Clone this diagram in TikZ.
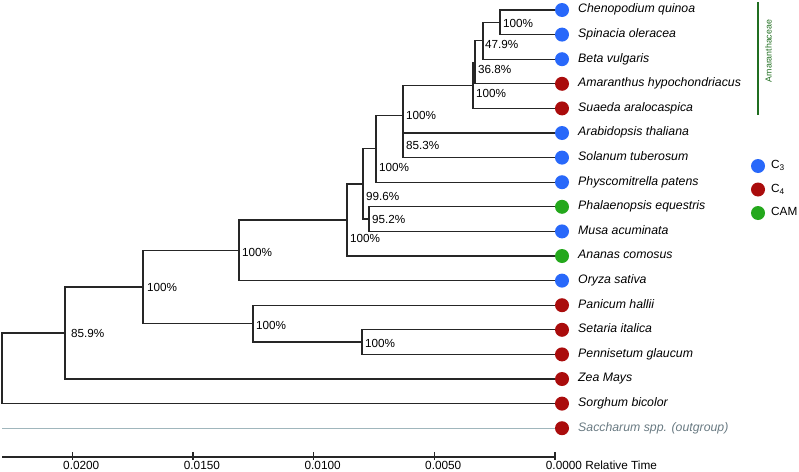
\documentclass[tikz,border=0pt]{standalone}
\usepackage{fontspec}
\setmainfont{Liberation Sans}
\usepackage{tikz}
\usetikzlibrary{positioning}
\definecolor{cthree}{RGB}{40,104,250}
\definecolor{cfour}{RGB}{170,12,12}
\definecolor{ccam}{RGB}{36,168,28}
\definecolor{amgreen}{RGB}{32,110,32}
\definecolor{outline}{RGB}{160,182,188}
\definecolor{outtext}{RGB}{105,122,130}

\begin{document}
\begin{tikzpicture}[x=1pt,y=-1pt,
  branch/.style={line width=1.3pt, draw=black!85},
  leafdot/.style={circle, inner sep=0pt, minimum size=14pt},
  taxon/.style={anchor=west, inner sep=0pt, font=\itshape\fontsize{12.3}{14}\selectfont},
  support/.style={anchor=west, inner sep=0pt, font=\fontsize{11.7}{14}\selectfont},
  axlabel/.style={anchor=west, inner sep=0pt, font=\fontsize{11.8}{14}\selectfont}]
\useasboundingbox (0,0) rectangle (799,471);

% internal nodes of the tree
\coordinate (n1) at (500,22.3);
\coordinate (n2) at (483,40.75);
\coordinate (n3) at (475,62.3);
\coordinate (n4) at (473,85.3);
\coordinate (n5) at (403,145.3);
\coordinate (n6) at (403,115.3);
\coordinate (n7) at (376,148.75);
\coordinate (n8) at (369,219.1);
\coordinate (n9) at (363,183.9);
\coordinate (n10) at (347,220);
\coordinate (n11) at (239,250.3);
\coordinate (n12) at (362,342.1);
\coordinate (n13) at (253,323.7);
\coordinate (n14) at (143,287);
\coordinate (n15) at (65,333);
\coordinate (root) at (2,368.3);
\coordinate (outbase) at (2,428.2);

% leaf positions
\coordinate (chq) at (562,10);
\coordinate (spo) at (562,34.6);
\coordinate (bvu) at (562,59.2);
\coordinate (ahy) at (562,83.8);
\coordinate (sar) at (562,108.4);
\coordinate (ath) at (562,133);
\coordinate (stu) at (562,157.6);
\coordinate (ppa) at (562,182.2);
\coordinate (peq) at (562,206.8);
\coordinate (mac) at (562,231.4);
\coordinate (aco) at (562,256);
\coordinate (osa) at (562,280.6);
\coordinate (pha) at (562,305.2);
\coordinate (sit) at (562,329.8);
\coordinate (pgl) at (562,354.4);
\coordinate (zma) at (562,379);
\coordinate (sbi) at (562,403.6);
\coordinate (ssp) at (562,428.2);

% branches
\draw[branch] (n1) |- (chq);
\draw[branch] (n1) |- (spo);
\draw[branch] (n2) |- (n1);
\draw[branch] (n2) |- (bvu);
\draw[branch] (n3) |- (n2);
\draw[branch] (n3) |- (ahy);
\draw[branch] (n4) |- (n3);
\draw[branch] (n4) |- (sar);
\draw[branch] (n5) |- (ath);
\draw[branch] (n5) |- (stu);
\draw[branch] (n6) |- (n4);
\draw[branch] (n6) |- (n5);
\draw[branch] (n7) |- (n6);
\draw[branch] (n7) |- (ppa);
\draw[branch] (n8) |- (peq);
\draw[branch] (n8) |- (mac);
\draw[branch] (n9) |- (n7);
\draw[branch] (n9) |- (n8);
\draw[branch] (n10) |- (n9);
\draw[branch] (n10) |- (aco);
\draw[branch] (n11) |- (n10);
\draw[branch] (n11) |- (osa);
\draw[branch] (n12) |- (sit);
\draw[branch] (n12) |- (pgl);
\draw[branch] (n13) |- (pha);
\draw[branch] (n13) |- (n12);
\draw[branch] (n14) |- (n11);
\draw[branch] (n14) |- (n13);
\draw[branch] (n15) |- (n14);
\draw[branch] (n15) |- (zma);
\draw[branch] (root) |- (n15);
\draw[branch] (root) |- (sbi);
\draw[line width=1.3pt, draw=outline] (outbase) -- (ssp);

% photosynthesis type dots
\node[leafdot, fill=cthree] (dchq) at (chq) {};
\node[leafdot, fill=cthree] (dspo) at (spo) {};
\node[leafdot, fill=cthree] (dbvu) at (bvu) {};
\node[leafdot, fill=cfour] (dahy) at (ahy) {};
\node[leafdot, fill=cfour] (dsar) at (sar) {};
\node[leafdot, fill=cthree] (dath) at (ath) {};
\node[leafdot, fill=cthree] (dstu) at (stu) {};
\node[leafdot, fill=cthree] (dppa) at (ppa) {};
\node[leafdot, fill=ccam] (dpeq) at (peq) {};
\node[leafdot, fill=cthree] (dmac) at (mac) {};
\node[leafdot, fill=ccam] (daco) at (aco) {};
\node[leafdot, fill=cthree] (dosa) at (osa) {};
\node[leafdot, fill=cfour] (dpha) at (pha) {};
\node[leafdot, fill=cfour] (dsit) at (sit) {};
\node[leafdot, fill=cfour] (dpgl) at (pgl) {};
\node[leafdot, fill=cfour] (dzma) at (zma) {};
\node[leafdot, fill=cfour] (dsbi) at (sbi) {};
\node[leafdot, fill=cfour] (dssp) at (ssp) {};

% support values
\node[support] (s1) at (503,23) {100\%};
\node[support] (s2) at (485,44) {47.9\%};
\node[support] (s3) at (478,69) {36.8\%};
\node[support] (s4) at (476,93) {100\%};
\node[support] (s5) at (406,145) {85.3\%};
\node[support] (s6) at (406,115) {100\%};
\node[support] (s7) at (379,167) {100\%};
\node[support] (s8) at (372,219) {95.2\%};
\node[support] (s9) at (366,196) {99.6\%};
\node[support] (s10) at (350,238) {100\%};
\node[support] (s11) at (242,252) {100\%};
\node[support] (s12) at (365,343) {100\%};
\node[support] (s13) at (256,325) {100\%};
\node[support] (s14) at (147,287) {100\%};
\node[support] (s15) at (71,333) {85.9\%};

% taxon names
\node[taxon] (tchq) at (578,10) {Chenopodium quinoa\strut};
\node[taxon] (tspo) at (578,34.6) {Spinacia oleracea\strut};
\node[taxon] (tbvu) at (578,59.2) {Beta vulgaris\strut};
\node[taxon] (tahy) at (578,83.8) {Amaranthus hypochondriacus\strut};
\node[taxon] (tsar) at (578,108.4) {Suaeda aralocaspica\strut};
\node[taxon] (tath) at (578,133) {Arabidopsis thaliana\strut};
\node[taxon] (tstu) at (578,157.6) {Solanum tuberosum\strut};
\node[taxon] (tppa) at (578,182.2) {Physcomitrella patens\strut};
\node[taxon] (tpeq) at (578,206.8) {Phalaenopsis equestris\strut};
\node[taxon] (tmac) at (578,231.4) {Musa acuminata\strut};
\node[taxon] (taco) at (578,256) {Ananas comosus\strut};
\node[taxon] (tosa) at (578,280.6) {Oryza sativa\strut};
\node[taxon] (tpha) at (578,305.2) {Panicum hallii\strut};
\node[taxon] (tsit) at (578,329.8) {Setaria italica\strut};
\node[taxon] (tpgl) at (578,354.4) {Pennisetum glaucum\strut};
\node[taxon] (tzma) at (578,379) {Zea Mays\strut};
\node[taxon] (tsbi) at (578,403.6) {Sorghum bicolor\strut};
\node[taxon, text=outtext] (tssp) at (578,428.2) {Saccharum spp. (outgroup)\strut};

% Amaranthaceae bracket
\coordinate (brtop) at (758,2);
\coordinate (brbot) at (758,115);
\draw[amgreen, line width=2pt] (brtop) -- (brbot);
\node[rotate=90, inner sep=0pt, text=amgreen, font=\fontsize{8.8}{10}\selectfont] (amlab) at (768.5,51) {Amaranthaceae};

% legend
\node[leafdot, fill=cthree] (kc3) at (758,166) {};
\node[leafdot, fill=cfour] (kc4) at (758,189.5) {};
\node[leafdot, fill=ccam] (kcam) at (758,213) {};
\node[axlabel] (lc3) at (771,166) {C\textsubscript{3}\strut};
\node[axlabel] (lc4) at (771,189.5) {C\textsubscript{4}\strut};
\node[axlabel] (lcam) at (771,213) {CAM\strut};

% time axis
\coordinate (axl) at (2,457);
\coordinate (axr) at (555,457);
\draw[line width=1.3pt, black!85] (axl) -- (axr);
\draw[line width=1.3pt, black!85] (72.3,452) -- (72.3,460);
\draw[line width=1.3pt, black!85] (193,452) -- (193,460);
\draw[line width=1.3pt, black!85] (313.7,452) -- (313.7,460);
\draw[line width=1.3pt, black!85] (434.3,452) -- (434.3,460);
\draw[line width=1.3pt, black!85] (555,452) -- (555,460);
\node[axlabel] (t1) at (63,465) {0.0200};
\node[axlabel] (t2) at (183.7,465) {0.0150};
\node[axlabel] (t3) at (304.4,465) {0.0100};
\node[axlabel] (t4) at (425,465) {0.0050};
\node[axlabel] (t5) at (545.7,465) {0.0000 Relative Time};
\end{tikzpicture}
\end{document}
